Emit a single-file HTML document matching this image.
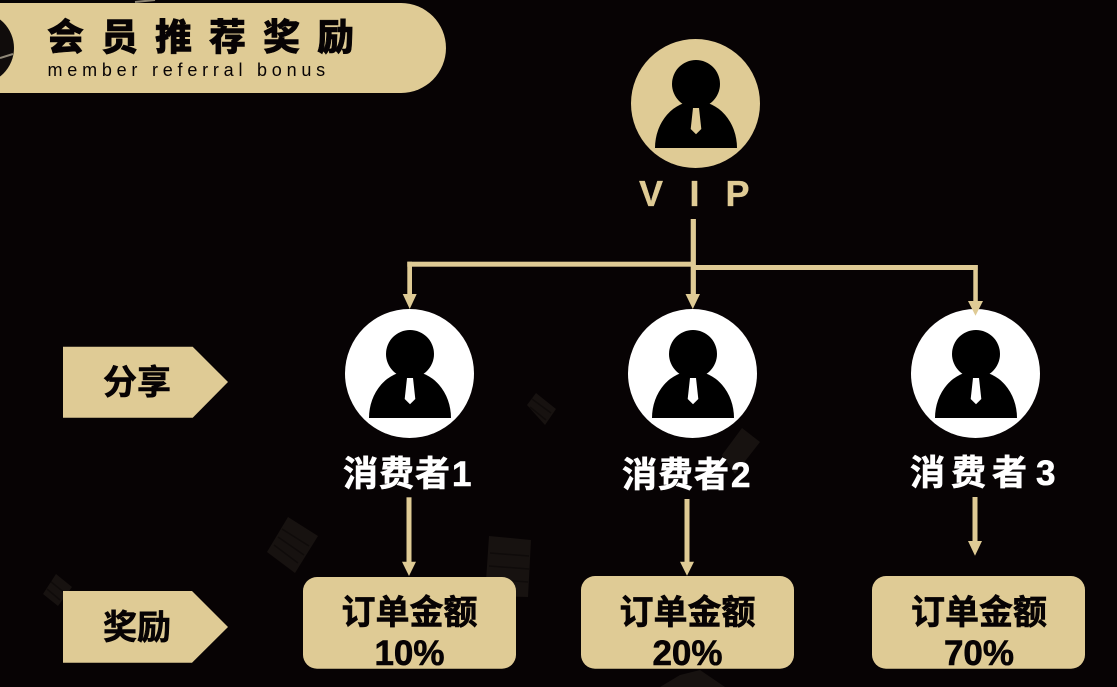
<!DOCTYPE html>
<html lang="zh">
<head>
<meta charset="utf-8">
<style>
html,body{margin:0;padding:0;background:#070304;}
svg{display:block;}
text{font-family:"Noto Sans CJK SC","Liberation Sans",sans-serif;}
.b{font-weight:700;}
.t{font-weight:900;}
.en{font-family:"Liberation Sans",sans-serif;}
</style>
</head>
<body>
<svg width="1117" height="687" viewBox="0 0 1117 687" xmlns="http://www.w3.org/2000/svg">
<defs>
<g id="p">
<circle cx="0" cy="-19.5" r="24"/>
<path d="M-41,44.5 A41,47 0 0 1 41,44.5 Z"/>
</g>
</defs>
<rect width="1117" height="687" fill="#070304"/>

<!-- faint background decorations -->
<g fill="#171210">
<polygon points="288,517 318,536 295,573 267,552"/>
<polygon points="489,536 531,540 528,597 485,596"/>
<polygon points="56,574 72,587 58,606 43,594"/>
<polygon points="536,393 556,409 545,425 527,405"/>
<polygon points="742,428 760,442 735,474 722,455"/>
<polygon points="660,687 680,675 700,670 725,687"/>
</g>
<g stroke="#070304" stroke-width="1.5" fill="none" opacity="0.5">
<path d="M282,529 L309,546 M278,537 L304,555 M274,545 L298,563"/>
<path d="M490,553 L529,556 M489,566 L529,569 M488,579 L528,582"/>
<path d="M532,399 L551,413 M530,407 L546,420"/>
<path d="M50,581 L66,594 M47,589 L60,600"/>
</g>
<path d="M135,2 L155,0" stroke="#8a8270" stroke-width="2" fill="none"/>

<!-- banner -->
<path d="M0,3 H401 A45,45 0 0 1 401,93 H0 Z" fill="#dfcb95"/>
<circle cx="-22" cy="48" r="36" fill="#100c0b"/>
<path d="M0,58 L13,54" stroke="#8f8878" stroke-width="2" fill="none"/>
<text x="47" y="50" class="t" font-size="37" letter-spacing="17" fill="#070304" stroke="#070304" stroke-width="0.5">会员推荐奖励</text>
<text x="47.5" y="76" class="en" font-size="18" letter-spacing="4.78" fill="#070304">member referral bonus</text>

<!-- VIP -->
<circle cx="695.5" cy="103.5" r="64.5" fill="#dfcb95"/>
<use href="#p" x="696" y="103.5" fill="#000"/>
<polygon points="693,108 699,108 701.3,129 696,134.3 690.7,129" fill="#dfcb95"/>
<g font-size="36" fill="#dfcb95" stroke="#dfcb95" stroke-width="0.3" class="en">
<text x="639" y="206" class="b en">V</text>
<text x="689.5" y="206" class="b en">I</text>
<text x="725.5" y="206" class="b en">P</text>
</g>

<!-- consumers -->
<g>
<circle cx="409.5" cy="373.5" r="64.5" fill="#fff"/>
<use href="#p" x="410" y="373.5" fill="#000"/>
<polygon points="407,378 413,378 415.3,399 410,404.3 404.7,399" fill="#fff"/>
<circle cx="692.5" cy="373.5" r="64.5" fill="#fff"/>
<use href="#p" x="693" y="373.5" fill="#000"/>
<polygon points="690,378 696,378 698.3,399 693,404.3 687.7,399" fill="#fff"/>
<circle cx="975.5" cy="373.5" r="64.5" fill="#fff"/>
<use href="#p" x="976" y="373.5" fill="#000"/>
<polygon points="973,378 979,378 981.3,399 976,404.3 970.7,399" fill="#fff"/>
</g>

<!-- connectors -->
<g fill="#dfcb95">
<rect x="690.7" y="219" width="5.2" height="78"/>
<rect x="407.3" y="261.7" width="285" height="5"/>
<rect x="407.3" y="261.7" width="4.7" height="34"/>
<rect x="693" y="265" width="284.7" height="5"/>
<rect x="973.3" y="265" width="4.5" height="38"/>
<polygon points="402.7,294 416.7,294 409.7,309"/>
<polygon points="685.5,294 700,294 692.8,309"/>
<polygon points="968,301 983,301 975.5,315.7"/>
<rect x="406.5" y="497.3" width="5" height="66"/>
<polygon points="402,561.7 416,561.7 409,576"/>
<rect x="684.5" y="499" width="5" height="64"/>
<polygon points="680,561.7 694,561.7 687,575.7"/>
<rect x="972.5" y="497" width="5" height="45"/>
<polygon points="968,541 982,541 975,555.7"/>
</g>

<!-- consumer labels -->
<g font-size="35" fill="#fff" stroke="#fff" stroke-width="0.6">
<text x="343" y="486" class="b" letter-spacing="1">消费者</text>
<text x="452" y="486" class="b en" font-size="35">1</text>
<text x="622" y="487" class="b" letter-spacing="1">消费者</text>
<text x="731" y="487" class="b en" font-size="35">2</text>
<text x="910" y="485" class="b" letter-spacing="6">消费者</text>
<text x="1036" y="485" class="b en" font-size="35">3</text>
</g>

<!-- tags -->
<polygon points="63,346.7 192.7,346.7 228,382 192.7,417.7 63,417.7" fill="#dfcb95"/>
<polygon points="63,591 192,591 228,627 192,662.7 63,662.7" fill="#dfcb95"/>
<g stroke="#070304" stroke-width="0.6">
<text x="103" y="394" class="b" font-size="34" fill="#070304">分享</text>
<text x="103" y="639" class="b" font-size="34" fill="#070304">奖励</text>
</g>

<!-- reward boxes -->
<rect x="303" y="577" width="213" height="91.7" rx="14" fill="#dfcb95"/>
<rect x="581" y="576" width="213" height="92.7" rx="14" fill="#dfcb95"/>
<rect x="872" y="576" width="213" height="92.7" rx="14" fill="#dfcb95"/>
<g font-size="34" fill="#070304" text-anchor="middle" stroke="#070304" stroke-width="0.6">
<text x="409.5" y="624" class="b">订单金额</text>
<text x="409.5" y="665" class="b en" font-size="35">10%</text>
<text x="687.5" y="624" class="b">订单金额</text>
<text x="687.5" y="665" class="b en" font-size="35">20%</text>
<text x="979" y="624" class="b">订单金额</text>
<text x="979" y="665" class="b en" font-size="35">70%</text>
</g>
</svg>
</body>
</html>
